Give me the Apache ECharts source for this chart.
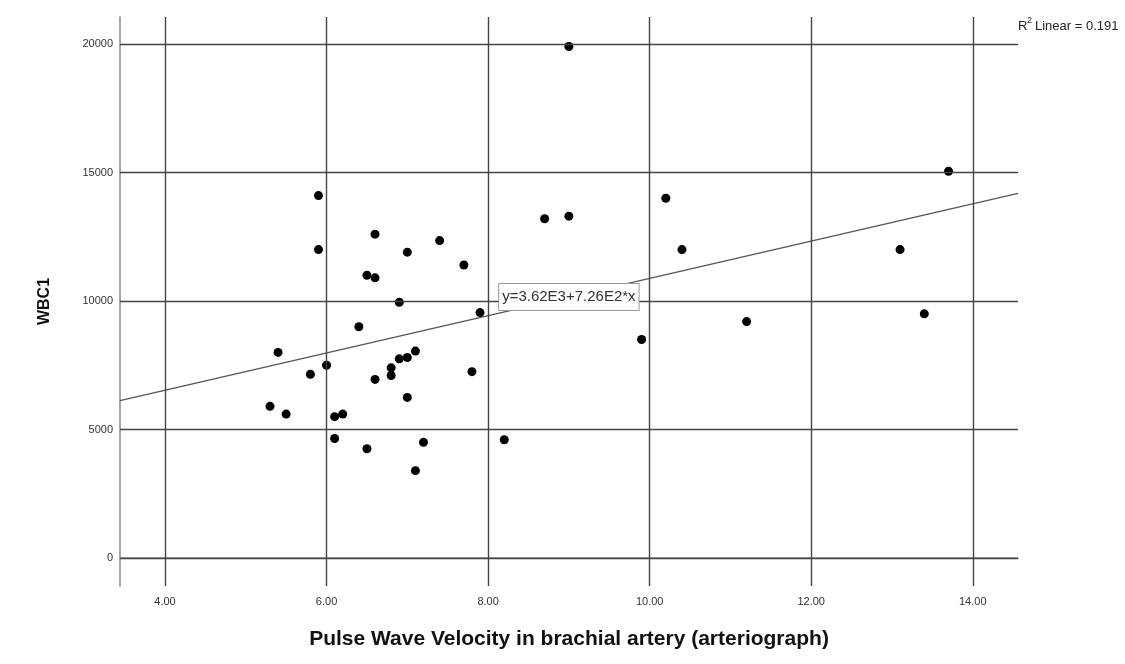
<!DOCTYPE html>
<html>
<head>
<meta charset="utf-8">
<script src="https://cdn.jsdelivr.net/npm/echarts@6/dist/echarts.min.js"></script>
<style>
  html, body { margin: 0; padding: 0; background: #fff; }
  #main { width: 1125px; height: 664px; }
</style>
</head>
<body>
<div id="main"></div>
<script>
// PWV (brachial, arteriograph) vs WBC1
var pwv = [9.0, 13.7, 5.9, 5.9, 6.6, 7.4, 7.0, 7.7, 6.5, 6.6, 8.7, 9.0, 10.2, 10.4, 13.1,
           13.4, 11.2, 9.9, 7.9, 6.9, 6.4, 5.4, 7.1, 7.0, 6.9, 6.0, 5.8, 6.8, 6.8, 6.6,
           7.8, 7.0, 5.3, 5.5, 6.1, 6.2, 6.1, 6.5, 7.2, 8.2, 7.1];
var wbc = [19900, 15050, 14100, 12000, 12600, 12350, 11900, 11400, 11000, 10900, 13200, 13300, 14000, 12000, 12000,
           9500, 9200, 8500, 9550, 9950, 9000, 8000, 8050, 7800, 7750, 7500, 7150, 7400, 7100, 6950,
           7250, 6250, 5900, 5600, 5500, 5600, 4650, 4250, 4500, 4600, 3400];
var xTicks = [4, 6, 8, 10, 12, 14];
var yTicks = [0, 5000, 10000, 15000, 20000];
var fitA = 3620;   // intercept
var fitB = 726;    // slope
var fitText = 'y=3.62E3+7.26E2*x';
var r2Text = '0.191';

var xMin = 3.443, xMax = 14.56;
var yMin = -1089, yMax = 21050;

var points = [];
for (var i = 0; i < pwv.length; i++) {
    points.push([pwv[i], wbc[i]]);
}
var fitLine = [[xMin, fitA + fitB * xMin], [xMax, fitA + fitB * xMax]];
var labelX = 9.0;

var gridLines = [];
xTicks.forEach(function (v) { gridLines.push({ xAxis: v }); });
yTicks.forEach(function (v) { gridLines.push({ yAxis: v }); });

var chart = echarts.init(document.getElementById('main'));
chart.setOption({
    backgroundColor: '#fff',
    animation: false,
    grid: { left: 120, right: 107, top: 17, bottom: 78 },
    xAxis: {
        type: 'value', min: xMin, max: xMax,
        name: 'Pulse Wave Velocity in brachial artery (arteriograph)',
        nameLocation: 'middle', nameGap: 43,
        nameTextStyle: { fontFamily: 'Liberation Sans', fontWeight: 'bold', fontSize: 21, color: '#111' },
        axisLine: { lineStyle: { color: '#888', width: 1.5 } },
        axisTick: { show: false },
        splitLine: { show: false },
        axisLabel: {
            customValues: xTicks, margin: 10,
            fontFamily: 'Liberation Sans', fontSize: 11, color: '#333',
            formatter: function (v) { return v.toFixed(2); }
        }
    },
    yAxis: {
        type: 'value', min: yMin, max: yMax,
        name: 'WBC1',
        nameLocation: 'middle', nameGap: 67, nameRotate: 90,
        nameTextStyle: { fontFamily: 'Liberation Sans', fontWeight: 'bold', fontSize: 16, color: '#111' },
        axisLine: { show: true, lineStyle: { color: '#888', width: 1.5 } },
        axisTick: { show: false },
        splitLine: { show: false },
        axisLabel: {
            customValues: yTicks, margin: 7,
            fontFamily: 'Liberation Sans', fontSize: 11, color: '#333',
            formatter: function (v) { return String(v); }
        }
    },
    graphic: [
        { type: 'text', left: 1018, top: 20, style: { text: 'R', fontFamily: 'Liberation Sans', fontSize: 13, fill: '#222' } },
        { type: 'text', left: 1027, top: 16, style: { text: '2', fontFamily: 'Liberation Sans', fontSize: 9, fill: '#222' } },
        { type: 'text', left: 1035, top: 20, style: { text: 'Linear = ' + r2Text, fontFamily: 'Liberation Sans', fontSize: 13, fill: '#222' } }
    ],
    series: [
        {
            type: 'line',
            data: fitLine,
            symbol: 'none',
            silent: true,
            z: 1,
            lineStyle: { color: '#555', width: 1.3 },
            markLine: {
                silent: true,
                symbol: 'none',
                label: { show: false },
                lineStyle: { color: '#444', width: 1.4, type: 'solid' },
                data: gridLines
            },
            markPoint: {
                symbol: 'rect',
                symbolSize: 0,
                silent: true,
                label: {
                    show: true,
                    position: 'inside',
                    formatter: fitText,
                    fontFamily: 'Liberation Sans',
                    fontSize: 15,
                    color: '#333',
                    backgroundColor: '#fff',
                    borderColor: '#999',
                    borderWidth: 1,
                    padding: [6, 3, 5, 3]
                },
                data: [{ coord: [labelX, fitA + fitB * labelX] }]
            }
        },
        {
            type: 'scatter',
            data: points,
            symbolSize: 9,
            z: 3,
            itemStyle: { color: '#000', opacity: 1 }
        }
    ]
});
</script>
</body>
</html>
